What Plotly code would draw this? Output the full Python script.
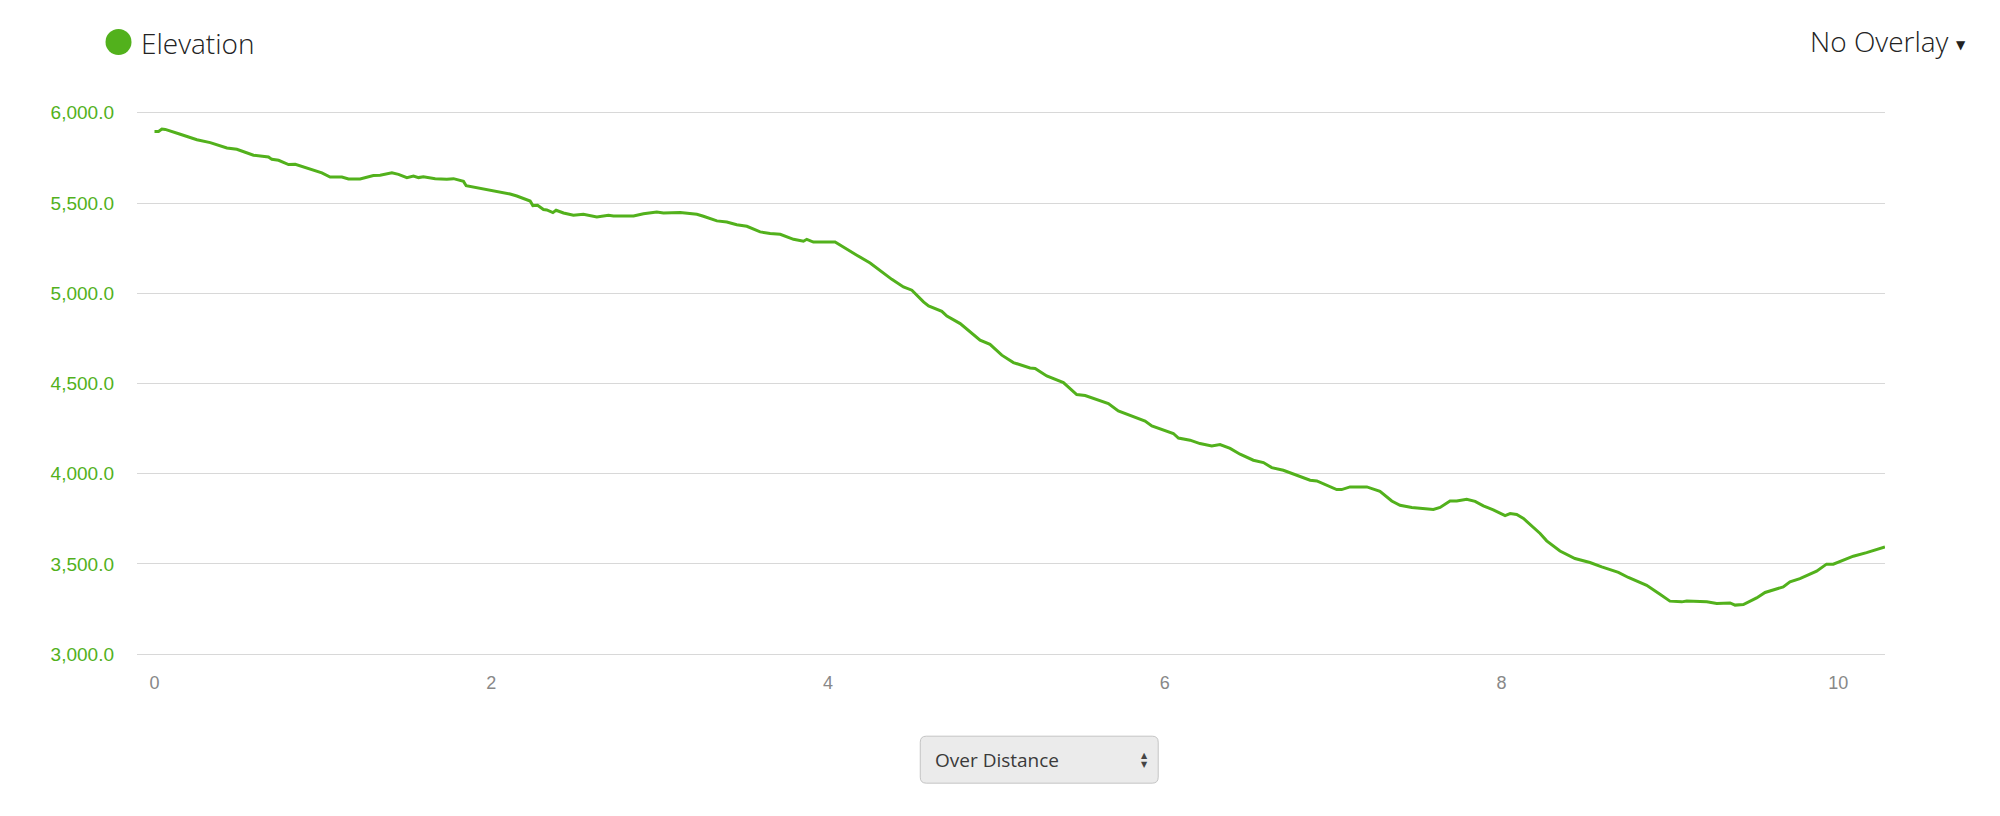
import plotly.graph_objects as go

# ---- data ----
distance = [0, 0.024, 0.044, 0.064, 0.153, 0.212, 0.252, 0.331, 0.43, 0.489,
            0.588, 0.677, 0.697, 0.737, 0.796, 0.836, 0.925, 0.994, 1.043, 1.113,
            1.152, 1.221, 1.300, 1.340, 1.410, 1.449, 1.499, 1.538, 1.568, 1.597,
            1.667, 1.736, 1.776, 1.835, 1.851, 1.894, 1.993, 2.112, 2.152, 2.231,
            2.247, 2.275, 2.31, 2.33, 2.366, 2.385, 2.429, 2.488, 2.547, 2.627,
            2.696, 2.726, 2.845, 2.904, 2.983, 3.023, 3.122, 3.221, 3.26, 3.34,
            3.399, 3.458, 3.518, 3.597, 3.656, 3.716, 3.795, 3.854, 3.874, 3.913,
            4.042, 4.112, 4.171, 4.25, 4.31, 4.379, 4.448, 4.498, 4.567, 4.597,
            4.676, 4.706, 4.785, 4.824, 4.903, 4.962, 5.032, 5.101, 5.2, 5.23,
            5.299, 5.398, 5.477, 5.527, 5.616, 5.665, 5.724, 5.804, 5.883, 5.923,
            5.992, 6.051, 6.081, 6.15, 6.209, 6.279, 6.328, 6.388, 6.447, 6.526,
            6.586, 6.635, 6.704, 6.784, 6.863, 6.903, 6.962, 7.021, 7.05, 7.1,
            7.2, 7.278, 7.348, 7.397, 7.467, 7.575, 7.595, 7.635, 7.694, 7.734,
            7.793, 7.843, 7.892, 7.951, 8.021, 8.051, 8.09, 8.13, 8.189, 8.229,
            8.268, 8.347, 8.436, 8.525, 8.595, 8.694, 8.753, 8.862, 8.941, 9.0,
            9.07, 9.1, 9.219, 9.278, 9.357, 9.387, 9.436, 9.515, 9.565, 9.624,
            9.673, 9.713, 9.772, 9.871, 9.93, 9.97, 10.089, 10.168, 10.277]

elevation = [5897, 5897, 5910, 5908, 5881, 5862, 5851, 5835, 5805, 5798,
             5765, 5755, 5742, 5737, 5713, 5715, 5687, 5667, 5644, 5644,
             5633, 5633, 5652, 5654, 5667, 5659, 5641, 5650, 5641, 5646,
             5635, 5632, 5635, 5620, 5596, 5589, 5571, 5550, 5539, 5511,
             5486, 5488, 5464, 5462, 5447, 5460, 5445, 5432, 5438, 5423,
             5432, 5428, 5428, 5441, 5450, 5445, 5447, 5438, 5427, 5401,
             5395, 5380, 5371, 5340, 5331, 5327, 5299, 5288, 5299, 5284,
             5284, 5242, 5211, 5168, 5127, 5077, 5035, 5017, 4952, 4930,
             4900, 4874, 4832, 4801, 4740, 4717, 4657, 4616, 4586, 4583,
             4542, 4505, 4439, 4433, 4402, 4389, 4348, 4320, 4292, 4265,
             4241, 4223, 4198, 4186, 4167, 4154, 4162, 4140, 4108, 4075,
             4062, 4034, 4019, 3992, 3964, 3960, 3936, 3912, 3912, 3927,
             3927, 3903, 3849, 3825, 3813, 3807, 3802, 3813, 3849, 3849,
             3859, 3847, 3822, 3800, 3768, 3779, 3774, 3752, 3705, 3669,
             3628, 3572, 3530, 3508, 3484, 3453, 3425, 3382, 3332, 3294,
             3290, 3295, 3290, 3281, 3284, 3272, 3275, 3312, 3342, 3360,
             3373, 3401, 3419, 3460, 3499, 3499, 3543, 3563, 3594]

y_ticks = [3000, 3500, 4000, 4500, 5000, 5500, 6000]
x_ticks = [0, 2, 4, 6, 8, 10]

series_name = "Elevation"
overlay_label = "No Overlay"
mode_label = "Over Distance"

assert len(distance) == len(elevation)

GREEN = "#52b11c"

# ---- layout geometry (pixels) ----
W, H = 2000, 816
PX_PER_FT = 0.1805
PAD_FT = 10  # small range padding so the edge gridlines (3,000 / 6,000) are drawn
L, R = 136.5, 115
T = 112.5 - PAD_FT * PX_PER_FT
B = 162 - PAD_FT * PX_PER_FT
PW, PH = W - L - R, H - T - B


def px_x(p):
    return (p - L) / PW


def px_y(p):
    return (H - B - p) / PH


fig = go.Figure()
fig.add_trace(go.Scatter(
    x=distance, y=elevation, mode="lines",
    line=dict(color=GREEN, width=3),
    name=series_name, showlegend=False,
    hovertemplate="%{x:.2f}: %{y:,.1f}<extra></extra>",
))

shapes = [
    # legend dot
    dict(type="circle", xref="paper", yref="paper",
         xsizemode="pixel", ysizemode="pixel",
         xanchor=px_x(118), yanchor=px_y(41.7),
         x0=-13, x1=13, y0=-13, y1=13,
         fillcolor=GREEN, line=dict(width=0)),
]

# dropdown box (rounded rectangle)
bx0, bx1, by0, by1, rr = 920, 1158, 736, 783, 6
path = (f"M {px_x(bx0 + rr)},{px_y(by0)} L {px_x(bx1 - rr)},{px_y(by0)} "
        f"Q {px_x(bx1)},{px_y(by0)} {px_x(bx1)},{px_y(by0 + rr)} "
        f"L {px_x(bx1)},{px_y(by1 - rr)} Q {px_x(bx1)},{px_y(by1)} {px_x(bx1 - rr)},{px_y(by1)} "
        f"L {px_x(bx0 + rr)},{px_y(by1)} Q {px_x(bx0)},{px_y(by1)} {px_x(bx0)},{px_y(by1 - rr)} "
        f"L {px_x(bx0)},{px_y(by0 + rr)} Q {px_x(bx0)},{px_y(by0)} {px_x(bx0 + rr)},{px_y(by0)} Z")
shapes.append(dict(type="path", xref="paper", yref="paper", path=path,
                   fillcolor="#ebebeb", line=dict(color="#c4c4c4", width=1)))

annotations = [
    dict(text=series_name, xref="paper", yref="paper", x=px_x(139), y=px_y(43),
         xanchor="left", yanchor="middle", showarrow=False,
         font=dict(family="Open Sans", size=28, color="#222222", weight=300)),
    dict(text=overlay_label, xref="paper", yref="paper", x=px_x(1951), y=px_y(41),
         xanchor="right", yanchor="middle", showarrow=False,
         font=dict(family="Open Sans", size=28, color="#222222", weight=300)),
    dict(text="▼", xref="paper", yref="paper", x=px_x(1961.5), y=px_y(44.5),
         xanchor="center", yanchor="middle", showarrow=False,
         font=dict(family="DejaVu Sans", size=12, color="#222222")),
    dict(text=mode_label, xref="paper", yref="paper", x=px_x(933), y=px_y(760),
         xanchor="left", yanchor="middle", showarrow=False,
         font=dict(family="Open Sans", size=19, color="#3a3a3a")),
    dict(text="▲", xref="paper", yref="paper", x=px_x(1144.5), y=px_y(755),
         xanchor="center", yanchor="middle", showarrow=False,
         font=dict(family="DejaVu Sans", size=8, color="#444444")),
    dict(text="▼", xref="paper", yref="paper", x=px_x(1144.5), y=px_y(764),
         xanchor="center", yanchor="middle", showarrow=False,
         font=dict(family="DejaVu Sans", size=8, color="#444444")),
]

fig.update_layout(
    width=W, height=H, autosize=False,
    margin=dict(l=L, r=R, t=T, b=B, pad=0),
    paper_bgcolor="white", plot_bgcolor="white",
    showlegend=False,
    shapes=shapes, annotations=annotations,
    xaxis=dict(
        range=[(136.5 - 154.0) / 168.43, (1885 - 154.0) / 168.43],
        tickmode="array", tickvals=x_ticks, ticktext=[str(v) for v in x_ticks],
        showgrid=False, zeroline=False, showline=False, ticks="",
        ticklabelstandoff=14,
        tickfont=dict(family="Liberation Sans", size=18, color="#888888"),
        fixedrange=True,
    ),
    yaxis=dict(
        range=[3000 - PAD_FT, 6000 + PAD_FT],
        tickmode="array", tickvals=y_ticks,
        ticktext=[f"{v:,.1f}" for v in y_ticks],
        showgrid=True, gridcolor="#d8d8d8", gridwidth=1,
        zeroline=False, showline=False, ticks="",
        ticklabelstandoff=22,
        tickfont=dict(family="Liberation Sans", size=19, color=GREEN),
        fixedrange=True,
    ),
)

fig.write_html("out.html", config={"displayModeBar": False},
               post_script="document.body.style.margin='0';document.body.style.overflow='hidden';")
